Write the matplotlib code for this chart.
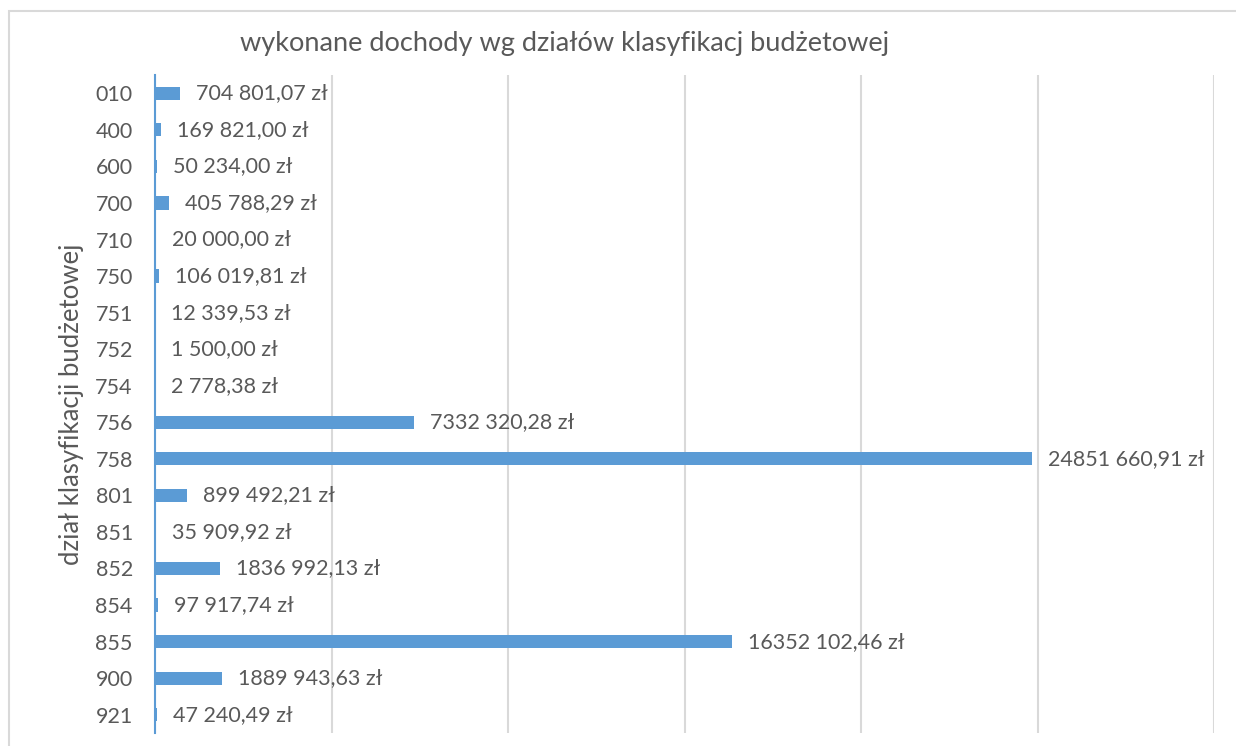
import matplotlib
matplotlib.use("Agg")
import matplotlib.pyplot as plt
from matplotlib.patches import Rectangle

categories = ["010", "400", "600", "700", "710", "750", "751", "752", "754",
              "756", "758", "801", "851", "852", "854", "855", "900", "921"]
values = [704801.07, 169821.00, 50234.00, 405788.29, 20000.00, 106019.81,
          12339.53, 1500.00, 2778.38, 7332320.28, 24851660.91, 899492.21,
          35909.92, 1836992.13, 97917.74, 16352102.46, 1889943.63, 47240.49]
labels = ["704 801,07 zł", "169 821,00 zł", "50 234,00 zł", "405 788,29 zł",
          "20 000,00 zł", "106 019,81 zł", "12 339,53 zł", "1 500,00 zł",
          "2 778,38 zł", "7332 320,28 zł", "24851 660,91 zł", "899 492,21 zł",
          "35 909,92 zł", "1836 992,13 zł", "97 917,74 zł", "16352 102,46 zł",
          "1889 943,63 zł", "47 240,49 zł"]
title = "wykonane dochody wg działów klasyfikacj budżetowej"
ylabel = "dział klasyfikacji budżetowej"

plt.rcParams['font.family'] = ['Lato', 'DejaVu Sans']
text_color = "#595959"
bar_color = "#5B9BD5"
grid_color = "#D9D9D9"

fig = plt.figure(figsize=(12.36, 7.46), dpi=100)
fig.patches.append(Rectangle((9 / 1236, -0.1), 1.2, 1.1 - 10.5 / 746,
                             transform=fig.transFigure, fill=False,
                             edgecolor="#D9D9D9", linewidth=1.5))
ax = fig.add_axes([155 / 1236, 1 - 733 / 746, (1214 - 155) / 1236, (733 - 75) / 746])

y = list(range(len(categories)))
ax.barh(y, values, height=0.36, color=bar_color, zorder=3)
ax.set_ylim(len(categories) - 0.5, -0.5)
ax.set_xlim(0, 30000000)
ax.set_xticks([0, 5e6, 10e6, 15e6, 20e6, 25e6, 30e6])
ax.set_xticklabels([])
ax.tick_params(axis='x', length=0)
ax.xaxis.grid(True, color=grid_color, linewidth=1.5, zorder=0)
ax.set_yticks(y)
ax.set_yticklabels(categories, fontsize=15.5, color=text_color)
ax.tick_params(axis='y', length=0, pad=16)

for s in ["top", "right", "bottom"]:
    ax.spines[s].set_visible(False)
ax.spines["left"].set_color(bar_color)
ax.spines["left"].set_linewidth(1.5)
ax.spines["left"].set_zorder(4)

for yi, v, lab in zip(y, values, labels):
    ax.annotate(lab, (v, yi), xytext=(16, 0), textcoords="offset pixels",
                ha="left", va="center", fontsize=15.5, color=text_color)

ax.set_ylabel(ylabel, fontsize=18.5, color=text_color)
ax.yaxis.set_label_coords(-(155 - 72) / (1214 - 155), 0.5)
ax.yaxis.label.set_va("center")
fig.text(565 / 1236, 1 - 43 / 746, title, ha="center", va="center",
         fontsize=19.5, color=text_color)

fig.savefig("out.png", dpi=100, facecolor="white")
